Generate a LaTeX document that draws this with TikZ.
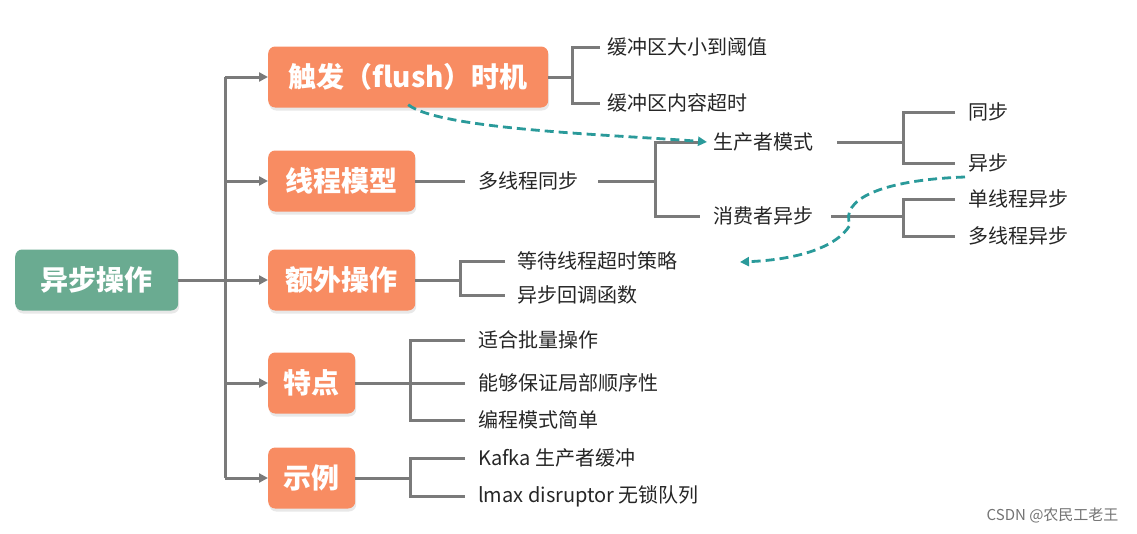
\documentclass[tikz,border=0pt]{standalone}
\usepackage{fontspec}
\setmainfont{Noto Sans CJK SC}
\usetikzlibrary{arrows.meta,shadows}
\definecolor{boxo}{HTML}{F88C62}
\definecolor{boxg}{HTML}{6AAB91}
\definecolor{ln}{HTML}{7A7A7A}
\definecolor{teal}{HTML}{2A9A9A}
\begin{document}
\begin{tikzpicture}[x=1pt,y=-1pt,
  box/.style={fill=boxo,rounded corners=7pt,text=white,font=\fontsize{28}{32}\selectfont\bfseries,minimum height=61pt,inner xsep=10pt,anchor=west,drop shadow={opacity=0.18,shadow xshift=1pt,shadow yshift=-3pt}},
  lf/.style={font=\fontsize{20}{24}\selectfont,text=black!85,anchor=west,inner sep=0pt},
  ln/.style={draw=ln,line width=3pt},
  arr/.style={ln,-{Triangle[length=9pt,width=9pt]}},
  da/.style={draw=teal,line width=2.8pt,dash pattern=on 9pt off 5pt,-{Triangle[length=9pt,width=9pt]}}]
\useasboundingbox (0,0) rectangle (1137,533);
\node[box,fill=boxg,minimum width=163pt,inner xsep=6pt] (root) at (15,280) {异步操作};
\node[box,minimum width=280pt] (b1) at (268,77) {触发（flush）时机};
\node[box,minimum width=147pt] (b2) at (268,181) {线程模型};
\node[box,minimum width=147pt] (b3) at (268,280) {额外操作};
\node[box,minimum width=87pt] (b4) at (268,383) {特点};
\node[box,minimum width=87pt] (b5) at (268,478) {示例};
\coordinate (tr) at (225,280);
\draw[ln] (root.east) -- (tr);
\draw[ln] (tr |- b1.west) -- (tr |- b5.west);
\foreach \b in {b1,b2,b3,b4,b5} \draw[arr] (tr |- \b.west) -- (\b.west);
% b1
\node[lf] (t11) at (607,47) {缓冲区大小到阈值};
\node[lf] (t12) at (607,103) {缓冲区内容超时};
\coordinate (j1) at (572,77);
\draw[ln] (b1.east) -- (j1);
\draw[ln] ([xshift=-7pt]t11.west) -| (j1) |- ([xshift=-7pt]t12.west);
% b2
\node[lf] (t21) at (478,181) {多线程同步};
\draw[ln] (b2.east) -- ([xshift=-13pt]t21.west);
\node[lf] (p) at (713,142) {生产者模式};
\node[lf] (c) at (713,216) {消费者异步};
\coordinate (j2) at (655,181);
\draw[ln] ([xshift=20pt]t21.east) -- (j2);
\draw[ln] ([xshift=-13pt]p.west) -| (j2) |- ([xshift=-13pt]c.west);
\node[lf] (s1) at (968,112) {同步};
\node[lf] (s2) at (968,163) {异步};
\coordinate (j3) at (903,142);
\draw[ln] ([xshift=24pt]p.east) -- (j3);
\draw[ln] ([xshift=-13pt]s1.west) -| (j3) |- ([xshift=-13pt]s2.west);
\node[lf] (s3) at (968,199) {单线程异步};
\node[lf] (s4) at (968,236) {多线程异步};
\coordinate (j4) at (903,216);
\draw[ln] ([xshift=18pt]c.east) -- (j4);
\draw[ln] ([xshift=-13pt]s3.west) -| (j4) |- ([xshift=-13pt]s4.west);
% b3
\node[lf] (t31) at (517,261) {等待线程超时策略};
\node[lf] (t32) at (517,295) {异步回调函数};
\coordinate (j5) at (460,280);
\draw[ln] (b3.east) -- (j5);
\draw[ln] ([xshift=-12pt]t31.west) -| (j5) |- ([xshift=-12pt]t32.west);
% b4
\node[lf] (t41) at (478,340) {适合批量操作};
\node[lf] (t42) at (478,383) {能够保证局部顺序性};
\node[lf] (t43) at (478,420) {编程模式简单};
\coordinate (j6) at (410,383);
\draw[ln] (b4.east) -- (j6);
\draw[ln] ([xshift=-13pt]t41.west) -| (j6) |- ([xshift=-13pt]t43.west);
\draw[ln] (j6) -- ([xshift=-13pt]t42.west);
% b5
\node[lf] (t51) at (478,458) {Kafka 生产者缓冲};
\node[lf] (t52) at (478,496) {lmax disruptor 无锁队列};
\coordinate (j7) at (410,478);
\draw[ln] (b5.east) -- (j7);
\draw[ln] ([xshift=-13pt]t51.west) -| (j7) |- ([xshift=-13pt]t52.west);
% dashed
\draw[da] ([yshift=3pt]b1.south) .. controls (440,130) and (620,135) .. ([xshift=-6pt]p.west);
\coordinate (d1) at (965,177);
\coordinate (d2) at (740,262);
\draw[da] (d1) .. controls (880,180) and (840,200) .. (850,225) .. controls (835,250) and (790,260) .. (d2);
\node[font=\fontsize{15}{18}\selectfont,text=black!55,anchor=east] (wm) at (1122,515) {CSDN @农民工老王};
\end{tikzpicture}
\end{document}
